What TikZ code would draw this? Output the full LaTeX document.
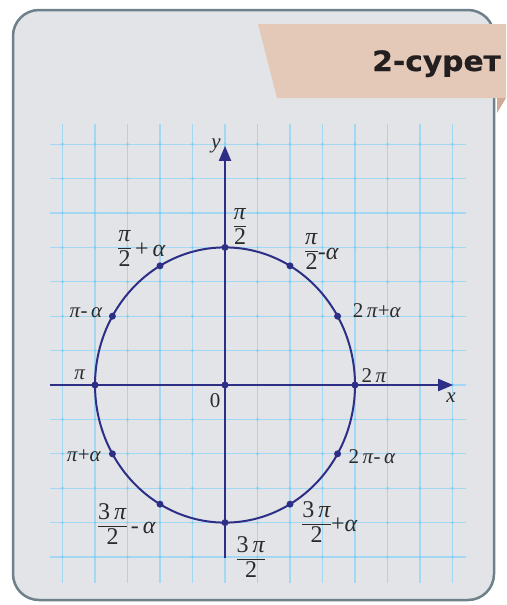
\documentclass[tikz,border=0pt]{standalone}
\usepackage{fontspec}
\newfontfamily\tagfont[FakeBold=0.6,FakeStretch=1.06]{DejaVu Sans}
\newfontfamily\lblfont{Liberation Serif}
\usetikzlibrary{arrows.meta}
\definecolor{panelfill}{HTML}{E2E4E8}
\definecolor{panelline}{HTML}{6E808A}
\definecolor{tagfill}{HTML}{E4C9B8}
\definecolor{tagfold}{HTML}{CFAA96}
\definecolor{gridblue}{HTML}{A2D8F3}
\definecolor{gridmark}{HTML}{86CFF2}
\definecolor{navy}{HTML}{2D2F87}
\definecolor{labelgray}{HTML}{2B2B2B}
\definecolor{tagtext}{HTML}{231F20}
\newcommand\pii{\textit{π}}
\newcommand\alp{\textit{α}}
\newcommand\fracl[2]{\setlength{\arrayrulewidth}{1pt}\setlength{\tabcolsep}{0pt}\renewcommand{\arraystretch}{0.78}\begin{tabular}{c}#1\\\hline\noalign{\vskip 2pt}#2\end{tabular}}
\tikzset{
  panel/.style={fill=panelfill, draw=panelline, line width=2.5pt, rounded corners=26pt},
  tagshape/.style={fill=tagfill, draw=none},
  foldshape/.style={fill=tagfold, draw=none},
  gridline/.style={draw=gridblue, line width=1.1pt},
  gridpt/.style={circle, fill=gridmark, inner sep=0pt, minimum size=3.2pt},
  axisline/.style={draw=navy, line width=2pt},
  arrowaxis/.style={axisline, -{Triangle[length=15pt,width=12pt]}},
  unitcircle/.style={draw=navy, line width=2pt},
  dotpt/.style={circle, fill=navy, inner sep=0pt, minimum size=7pt},
  lbl/.style={text=labelgray, inner sep=0pt, font=\lblfont\fontsize{21}{23}\selectfont},
  flbl/.style={text=labelgray, inner sep=0pt, font=\lblfont\fontsize{24}{26}\selectfont},
  titletext/.style={text=tagtext, inner sep=0pt, font=\tagfont\bfseries\fontsize{28}{30}\selectfont},
}
\begin{document}
\begin{tikzpicture}[x=1pt,y=-1pt]
\useasboundingbox (0,0) rectangle (506,605);
% panel
\draw[panel] (13,10) rectangle (494,600);
% tag
\fill[tagshape] (258,24) -- (506,24) -- (506,98) -- (277,98) -- cycle;
\fill[foldshape] (497,98) -- (506,98) -- (497,113) -- cycle;
\node[titletext, anchor=base east] (title) at (501,71) {2-сурет};
% diagram
\begin{scope}[shift={(225pt,-385pt)}, x=32.5pt, y=34.4pt]
  \foreach \i in {-5,...,7} \draw[gridline] (\i,-5.76) -- (\i,7.6);
  \foreach \j in {-5,...,7} \draw[gridline] (-5.38,\j) -- (7.42,\j);
  \foreach \i in {-5,...,7} \foreach \j in {-5,...,7} \node[gridpt] at (\i,\j) {};
  \coordinate (xs) at (-5.38,0);
  \coordinate (xe) at (7.02,0);
  \coordinate (ys) at (0,-5.03);
  \coordinate (ye) at (0,6.95);
  \draw[arrowaxis] (xs) -- (xe);
  \draw[arrowaxis] (ys) -- (ye);
  \draw[unitcircle] (0,0) circle [radius=4];
  \node[dotpt] (o) at (0,0) {};
  \foreach \a in {0,30,...,330} \node[dotpt] (p\a) at (\a:4) {};
\end{scope}
% labels
\node[lbl] (ly) at (216,146) {\textit{y}};
\node[lbl] (lx) at (451,398) {\textit{x}};
\node[lbl] (l0) at (215,401) {0};
\node[flbl] (l90) at (240,228) {\fracl{\pii}{2}};
\node[flbl] (l120) at (142,250) {\fracl{\pii}{2}\,+\,\alp};
\node[flbl] (l60) at (322,253) {\fracl{\pii}{2}-\alp};
\node[lbl] (l30) at (377,311) {2\,\pii+\alp};
\node[lbl] (l0a) at (374,376) {2\,\pii};
\node[lbl] (l330) at (372,457) {2\,\pii-\,\alp};
\node[flbl] (l300) at (330,525) {\fracl{3\,\pii}{2}+\alp};
\node[flbl] (l270) at (251,560) {\fracl{3\,\pii}{2}};
\node[flbl] (l240) at (127,527) {\fracl{3\,\pii}{2}\,-\,\alp};
\node[lbl] (l210) at (84,456) {\pii+\alp};
\node[lbl] (l180) at (80,375) {\pii};
\node[lbl] (l150) at (86,313) {\pii-\,\alp};
\end{tikzpicture}
\end{document}
